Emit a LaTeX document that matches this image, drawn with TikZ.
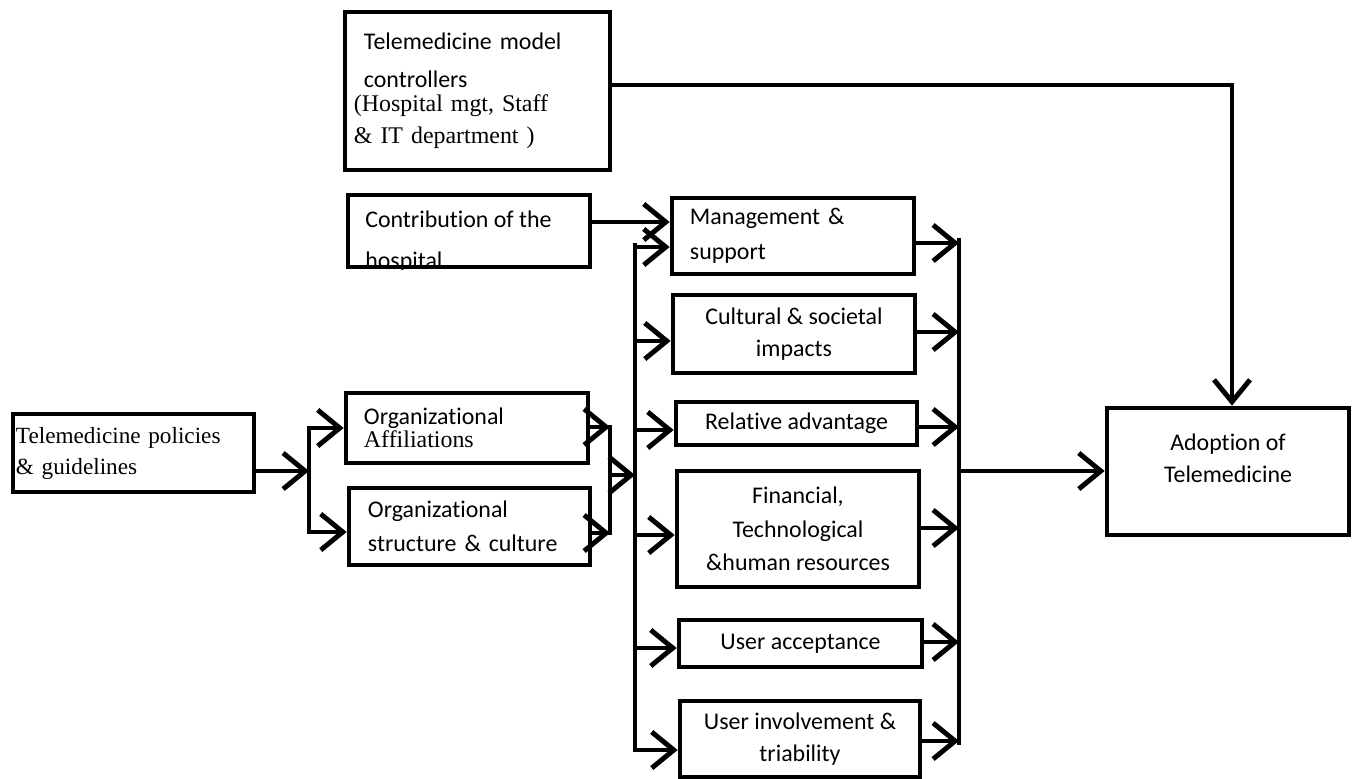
\documentclass[tikz,border=0pt]{standalone}
\usepackage{fontspec}
\setmainfont{Carlito}[Ligatures=NoCommon]
\newfontfamily\tnr{Liberation Serif}
\usetikzlibrary{arrows.meta}
\tikzset{
  box/.style={draw, line width=3.3pt, inner sep=0pt, font=\fontsize{17}{23}\selectfont},
  ln/.style={line width=3.5pt, line cap=rect},
  arr/.style={line width=3.5pt, -{Straight Barb[length=0.55cm, width=0.9cm]}}
}
\begin{document}
\begin{tikzpicture}[x=0.025cm, y=-0.025cm]
    \useasboundingbox (0,0) rectangle (1357,778);
    \node[box, minimum width=6.625cm, minimum height=3.95cm, text width=6.175cm, inner xsep=0.225cm, align=left] (ctrl) at (477.5,91)
        {\hspace*{0.25cm}Telemedicine model\\[4pt]\hspace*{0.25cm}controllers\\[-6pt]{\tnr (Hospital mgt, Staff}\\{\tnr \& IT department )}};
    \node[box, minimum width=6.05cm, minimum height=1.8cm] (contrib) at (469,231) {};
    \begin{scope}
        \clip (contrib.south west) rectangle (contrib.north east);
        \node[anchor=west, align=left, inner sep=0pt, font=\fontsize{17}{23}\selectfont] (contribtxt) at (365,242) {Contribution of the\\[6pt]hospital};
    \end{scope}
    \node[box, minimum width=6.05cm, minimum height=1.9cm, text width=5.15cm, inner xsep=0.45cm, align=left] (mgmt) at (793,236) {Management \&\\[2pt]support};
    \node[box, minimum width=6.05cm, minimum height=1.95cm, align=center] (cult) at (794,334) {Cultural \& societal\\impacts};
    \node[box, minimum width=6.025cm, minimum height=1.075cm, align=center] (rel) at (796.5,423.5) {Relative advantage};
    \node[box, minimum width=6.05cm, minimum height=2.9cm, align=center] (fin) at (798,529) {Financial,\\[1pt]Technological\\[1pt]\&human resources};
    \node[box, minimum width=6.075cm, minimum height=1.175cm, align=center] (acc) at (800.5,643.5) {User acceptance};
    \node[box, minimum width=6.0cm, minimum height=1.9cm, align=center] (inv) at (800,739) {User involvement \&\\triability};
    \node[box, minimum width=6.05cm, minimum height=3.175cm, align=center] (adopt) at (1228,471.5) {Adoption of\\Telemedicine\\[-4pt]\mbox{}};
    \node[box, font=\tnr\fontsize{16.5}{22}\selectfont, minimum width=6.025cm, minimum height=1.95cm, text width=5.875cm, inner xsep=0.075cm, align=left] (pol) at (133.5,453) {Telemedicine policies\\\& guidelines};
    \node[box, minimum width=6.05cm, minimum height=1.75cm, text width=5.15cm, inner xsep=0.45cm, align=left] (aff) at (467,428) {Organizational\\[-7pt]{\tnr Affiliations}};
    \node[box, minimum width=6.025cm, minimum height=1.925cm, text width=5.075cm, inner xsep=0.475cm, align=left] (str) at (469.5,526.5) {Organizational\\[1pt]structure \& culture};

    \coordinate (p1) at (309,471);
    \coordinate (s1) at (309,428);
    \coordinate (s2) at (309,532);
    \draw[arr] (pol.east |- p1) -- (p1);
    \draw[ln] (s1) -- (s2);
    \draw[arr] (s1) -- (aff.west |- s1);
    \draw[arr] (s2) -- (str.west |- s2);

    \coordinate (r1) at (610,427);
    \coordinate (r2) at (610,533);
    \coordinate (r3) at (610,475);
    \coordinate (b3) at (635,475);
    \draw[arr] (aff.east |- r1) -- (r1);
    \draw[arr] (str.east |- r2) -- (r2);
    \draw[ln] (r1) -- (r2);
    \draw[arr] (r3) -- (b3);

    \coordinate (lt) at (635,245);
    \coordinate (lb) at (635,750);
    \draw[ln] (lt) -- (lb);
    \coordinate (l1) at (635,247);
    \coordinate (l2) at (635,341);
    \coordinate (l3) at (635,430);
    \coordinate (l4) at (635,535);
    \coordinate (l5) at (635,648);
    \draw[arr] (l1) -- (mgmt.west |- l1);
    \draw[arr] (l2) -- (cult.west |- l2);
    \draw[arr] (l3) -- (rel.west |- l3);
    \draw[arr] (l4) -- (fin.west |- l4);
    \draw[arr] (l5) -- (acc.west |- l5);
    \draw[arr] (lb) -- (inv.west |- lb);

    \coordinate (c1) at (673,222);
    \draw[arr] (contrib.east |- c1) -- (mgmt.west |- c1);

    \coordinate (rt) at (959,240);
    \coordinate (rb) at (959,743);
    \draw[ln] (rt) -- (rb);
    \coordinate (e1) at (959,243);
    \coordinate (e2) at (959,332);
    \coordinate (e3) at (959,427);
    \coordinate (e4) at (959,528);
    \coordinate (e5) at (959,642);
    \coordinate (e6) at (959,741);
    \draw[arr] (mgmt.east |- e1) -- (e1);
    \draw[arr] (cult.east |- e2) -- (e2);
    \draw[arr] (rel.east |- e3) -- (e3);
    \draw[arr] (fin.east |- e4) -- (e4);
    \draw[arr] (acc.east |- e5) -- (e5);
    \draw[arr] (inv.east |- e6) -- (e6);

    \coordinate (o1) at (959,471);
    \draw[arr] (o1) -- (adopt.west |- o1);

    \coordinate (k) at (1232,85);
    \draw[arr] (ctrl.east |- k) -- (k) -- (adopt.north -| k);
\end{tikzpicture}
\end{document}
